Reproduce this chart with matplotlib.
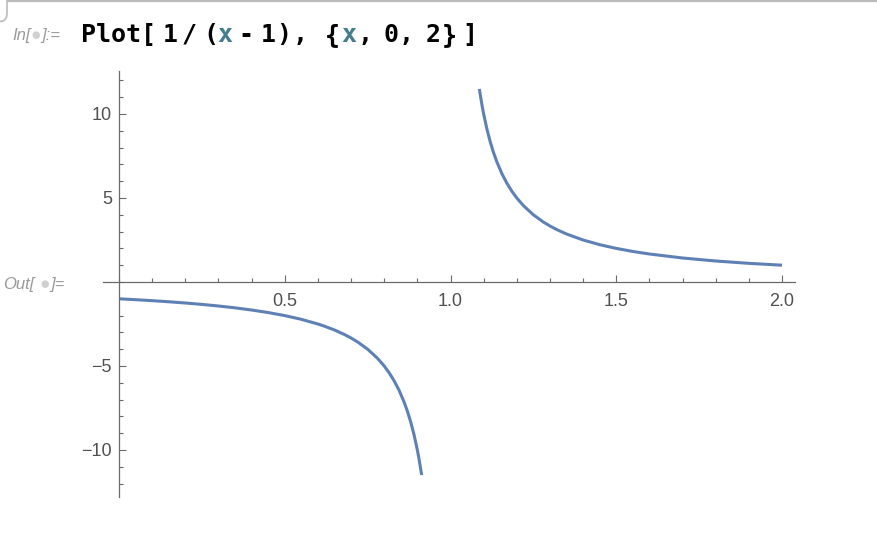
import matplotlib.pyplot as plt
from matplotlib.lines import Line2D
from matplotlib.ticker import FixedLocator, MultipleLocator

# samples of 1/(x-1)
x_left = [0.0, 0.05, 0.1, 0.15, 0.2, 0.25, 0.3, 0.35, 0.4, 0.45, 0.5, 0.55, 0.6,
          0.62, 0.65, 0.68, 0.7, 0.72, 0.75, 0.78, 0.8, 0.815, 0.83, 0.845,
          0.86, 0.87, 0.88, 0.89, 0.9, 0.905, 0.913]
y_left = [-1.0, -1.053, -1.111, -1.176, -1.25, -1.333, -1.429, -1.538, -1.667,
          -1.818, -2.0, -2.222, -2.5, -2.632, -2.857, -3.125, -3.333, -3.571,
          -4.0, -4.545, -5.0, -5.405, -5.882, -6.452, -7.143, -7.692, -8.333,
          -9.091, -10.0, -10.53, -11.49]
x_right = [1.087, 1.095, 1.1, 1.11, 1.12, 1.13, 1.14, 1.155, 1.17, 1.185, 1.2,
           1.22, 1.25, 1.28, 1.3, 1.32, 1.35, 1.4, 1.45, 1.5, 1.55, 1.6, 1.7,
           1.8, 1.9, 2.0]
y_right = [11.49, 10.53, 10.0, 9.091, 8.333, 7.692, 7.143, 6.452, 5.882, 5.405,
           5.0, 4.545, 4.0, 3.571, 3.333, 3.125, 2.857, 2.5, 2.222, 2.0, 1.818,
           1.667, 1.429, 1.25, 1.111, 1.0]

x_ticks = [0.5, 1.0, 1.5, 2.0]
x_labels = ["0.5", "1.0", "1.5", "2.0"]
y_ticks = [-10, -5, 5, 10]
y_labels = ["\u221210", "\u22125", "5", "10"]

W, H = 878, 550
fig = plt.figure(figsize=(W / 100, H / 100), dpi=100)


def fx(p):
    return p / W


def fy(p):
    return 1 - p / H


# notebook decorations
fig.add_artist(Line2D([fx(8), fx(878)], [fy(1), fy(1)], color="#bbbbbb", lw=1.6,
                      transform=fig.transFigure))
fig.add_artist(Line2D([fx(7), fx(7), fx(6.5), fx(5), fx(3), fx(0)],
                      [fy(0), fy(14), fy(17), fy(19.5), fy(21), fy(21.5)],
                      color="#bbbbbb", lw=1.2, transform=fig.transFigure))

label_kw = dict(fontsize=12, style="italic", color="#9a9a9a",
                family="Liberation Sans", va="baseline")
dot_kw = dict(fontsize=7, color="#d0d0d0", family="DejaVu Sans",
              ha="center", va="baseline")

fig.text(fx(12), fy(40), "In[", **label_kw)
fig.text(fx(35.5), fy(38), "\u25cf", **dot_kw)
fig.text(fx(41), fy(40), "]:=", **label_kw)

fig.text(fx(3), fy(289), "Out[", **label_kw)
fig.text(fx(45), fy(287), "\u25cf", **dot_kw)
fig.text(fx(50), fy(289), "]=", **label_kw)

# input code, token by token (ink centre in px)
code = [("Plot", 111, "k"), ("[", 148, "k"), ("1", 170, "k"), ("/", 189, "k"),
        ("(", 211, "k"), ("x", 225, "#457d8f"), ("-", 246, "k"), ("1", 268, "k"),
        (")", 284, "k"), (",", 300, "k"), ("{", 332, "k"), ("x", 349, "#457d8f"),
        (",", 365, "k"), ("0", 391, "k"), (",", 406, "k"), ("2", 433, "k"),
        ("}", 449, "k"), ("]", 470, "k")]
for tok, cx, col in code:
    fig.text(fx(cx), fy(42), tok, fontsize=18, fontweight="bold", color=col,
             family="DejaVu Sans Mono", ha="center", va="baseline")

# plot area: x=0 at px 119, x=2 at px 782; y=0 at px 282, 16.8 px per unit
ax = fig.add_axes([fx(103), fy(497), (795 - 103) / W, (497 - 71) / H])
ax.set_xlim(-16 / 331.5, 676 / 331.5)
ax.set_ylim(-215 / 16.8, 211 / 16.8)
ax.patch.set_alpha(0)

ax.plot(x_left, y_left, color="#5e81b5", lw=2.2, solid_capstyle="butt")
ax.plot(x_right, y_right, color="#5e81b5", lw=2.2, solid_capstyle="butt")

for s in ["top", "right"]:
    ax.spines[s].set_visible(False)
ax.spines["left"].set_position(("data", 0))
ax.spines["bottom"].set_position(("data", 0))
for s in ["left", "bottom"]:
    ax.spines[s].set_color("#6a6a6a")
    ax.spines[s].set_linewidth(0.9)

ax.xaxis.set_major_locator(FixedLocator(x_ticks))
ax.set_xticklabels(x_labels)
ax.yaxis.set_major_locator(FixedLocator(y_ticks))
ax.set_yticklabels(y_labels)
ax.xaxis.set_minor_locator(MultipleLocator(0.1))
ax.yaxis.set_minor_locator(MultipleLocator(1))

ax.tick_params(which="both", direction="in", color="#6a6a6a", width=0.8,
               labelcolor="#505050", labelsize=13)
ax.tick_params(which="major", length=5)
ax.tick_params(which="minor", length=2.8)
ax.tick_params(axis="x", which="major", pad=8)
ax.tick_params(axis="y", which="major", pad=5)
for lab in ax.get_xticklabels() + ax.get_yticklabels():
    lab.set_family("Liberation Sans")

fig.savefig("out.png", dpi=100)
